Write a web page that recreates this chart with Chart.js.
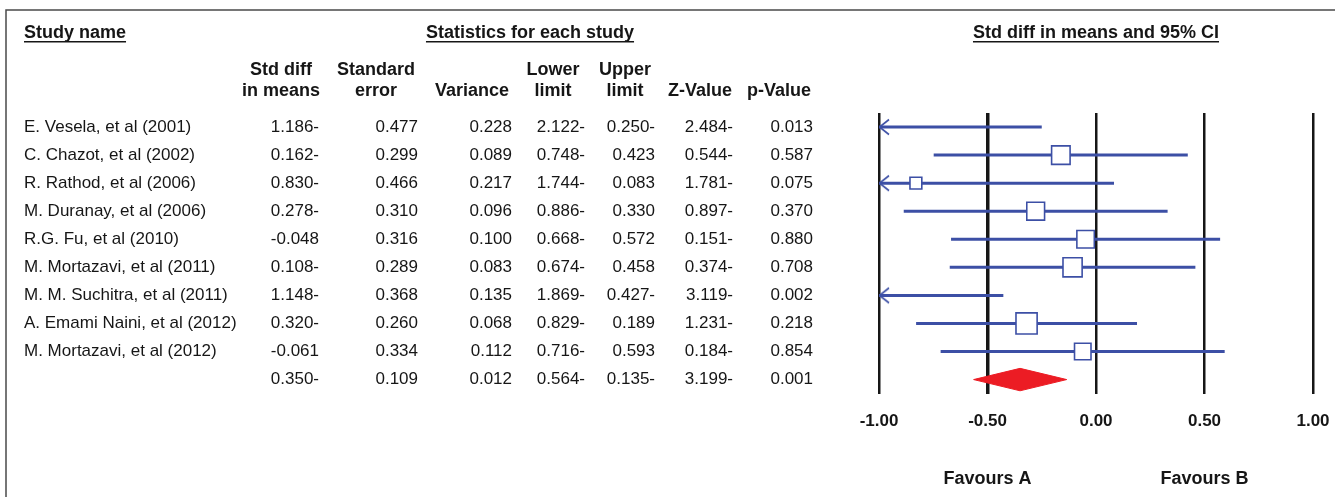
<!DOCTYPE html>
<html>
<head>
<meta charset="utf-8">
<title>Forest plot</title>
<script src="https://cdn.jsdelivr.net/npm/chart.js@4/dist/chart.umd.min.js"></script>
<style>
  html, body { margin: 0; padding: 0; background: #fff; }
  #wrap { width: 1335px; height: 497px; }
</style>
</head>
<body>
<div id="wrap"><canvas id="forest" width="1335" height="497"></canvas></div>
<script>
'use strict';

/* ── Data (as printed in the table) ───────────────────────── */
const studyNames = [
  'E. Vesela, et al (2001)',
  'C. Chazot, et al (2002)',
  'R. Rathod, et al (2006)',
  'M. Duranay, et al (2006)',
  'R.G. Fu, et al (2010)',
  'M. Mortazavi, et al (2011)',
  'M. M. Suchitra, et al (2011)',
  'A. Emami Naini, et al (2012)',
  'M. Mortazavi, et al (2012)',
  ''
];
const stdDiff    = ['1.186-', '0.162-', '0.830-', '0.278-', '-0.048', '0.108-', '1.148-', '0.320-', '-0.061', '0.350-'];
const stdError   = ['0.477', '0.299', '0.466', '0.310', '0.316', '0.289', '0.368', '0.260', '0.334', '0.109'];
const variance   = ['0.228', '0.089', '0.217', '0.096', '0.100', '0.083', '0.135', '0.068', '0.112', '0.012'];
const lowerLimit = ['2.122-', '0.748-', '1.744-', '0.886-', '0.668-', '0.674-', '1.869-', '0.829-', '0.716-', '0.564-'];
const upperLimit = ['0.250-', '0.423', '0.083', '0.330', '0.572', '0.458', '0.427-', '0.189', '0.593', '0.135-'];
const zValue     = ['2.484-', '0.544-', '1.781-', '0.897-', '0.151-', '0.374-', '3.119-', '1.231-', '0.184-', '3.199-'];
const pValue     = ['0.013', '0.587', '0.075', '0.370', '0.880', '0.708', '0.002', '0.218', '0.854', '0.001'];

const columnHeads = [
  ['Std diff', 'in means'], ['Standard', 'error'], ['', 'Variance'],
  ['Lower', 'limit'], ['Upper', 'limit'], ['', 'Z-Value'], ['', 'p-Value']
];
const axisTicks = [-1, -0.5, 0, 0.5, 1];
const favourLabels = ['Favours A', 'Favours B'];
const favourAt = [-0.5, 0.5];
const summaryRow = 9;

/* ── Style ────────────────────────────────────────────────── */
const FONT = "'Liberation Sans', Arial, sans-serif";
const INK = '#161616';
const BLUE = '#3c4fa5';
const RED = '#ec1c24';
const headX = [281, 376, 472, 553, 625, 700, 779];     // header centres
const valueRight = [319, 418, 512, 585, 655, 733, 813]; // value right edges

// "0.250-" is how the table prints -0.250
const num = s => s.endsWith('-') ? -parseFloat(s) : parseFloat(s);
const xMin = axisTicks[0];

/* ── Datasets ─────────────────────────────────────────────── */
const ciSets = [];
const arrowPoints = [];
const boxPoints = [];
for (let i = 0; i < summaryRow; i++) {
  const lo = num(lowerLimit[i]), hi = num(upperLimit[i]), m = num(stdDiff[i]);
  ciSets.push({
    type: 'line',
    data: [{ x: Math.max(lo, xMin), y: i }, { x: hi, y: i }],
    borderColor: BLUE, borderWidth: 3, pointRadius: 0, borderCapStyle: 'butt', order: 2
  });
  if (lo < xMin) arrowPoints.push({ x: xMin, y: i });
  if (m >= xMin) boxPoints.push({ x: m, y: i, w: 1 / num(variance[i]) });
}

// left-pointing open arrowhead used where the CI runs off the axis
const arrowHead = document.createElement('canvas');
arrowHead.width = 24; arrowHead.height = 20;
(() => {
  const c = arrowHead.getContext('2d');
  c.strokeStyle = BLUE; c.lineWidth = 1.6;
  c.beginPath(); c.moveTo(22, 2.5); c.lineTo(12.5, 10); c.lineTo(22, 17.5); c.stroke();
})();

const sm = num(stdDiff[summaryRow]), sl = num(lowerLimit[summaryRow]), su = num(upperLimit[summaryRow]);
const half = 0.4;
const diamondSet = {
  type: 'line',
  data: [
    { x: sl, y: summaryRow }, { x: sm, y: summaryRow - half },
    { x: su, y: summaryRow }, { x: sm, y: summaryRow + half }, { x: sl, y: summaryRow }
  ],
  borderColor: RED, backgroundColor: RED, borderWidth: 1, pointRadius: 0, fill: 'shape', order: 1
};

/* ── Table, titles and frame ──────────────────────────────── */
function underlinedTitle(ctx, text, x, y, align) {
  ctx.font = 'bold 18px ' + FONT;
  ctx.textAlign = align;
  ctx.fillText(text, x, y);
  const w = ctx.measureText(text).width;
  const left = align === 'center' ? x - w / 2 : x;
  ctx.fillRect(left, y + 8, w, 1.5);
}

const tablePlugin = {
  id: 'studyTable',
  afterDraw(chart) {
    const { ctx, scales: { x, y } } = chart;
    ctx.save();
    ctx.fillStyle = INK;
    ctx.textBaseline = 'middle';

    // frame
    ctx.strokeStyle = '#4a4a4a'; ctx.lineWidth = 1.5;
    ctx.beginPath(); ctx.moveTo(6, 497); ctx.lineTo(6, 10); ctx.lineTo(1335, 10); ctx.stroke();

    underlinedTitle(ctx, 'Study name', 24, 33, 'left');
    underlinedTitle(ctx, 'Statistics for each study', 530, 33, 'center');
    underlinedTitle(ctx, 'Std diff in means and 95% CI', x.getPixelForValue(0), 33, 'center');

    ctx.font = 'bold 18px ' + FONT;
    ctx.textAlign = 'center';
    columnHeads.forEach((h, c) => {
      if (h[0]) ctx.fillText(h[0], headX[c], 70);
      ctx.fillText(h[1], headX[c], 91);
    });

    const cols = [stdDiff, stdError, variance, lowerLimit, upperLimit, zValue, pValue];
    ctx.font = '17px ' + FONT;
    studyNames.forEach((name, i) => {
      const py = y.getPixelForValue(i);
      ctx.textAlign = 'left';
      if (name) ctx.fillText(name, 24, py);
      ctx.textAlign = 'right';
      cols.forEach((col, c) => ctx.fillText(col[i], valueRight[c], py));
    });

    ctx.font = 'bold 18px ' + FONT;
    ctx.textAlign = 'center';
    favourLabels.forEach((t, k) => ctx.fillText(t, x.getPixelForValue(favourAt[k]), 479));
    ctx.restore();
  }
};

/* ── Chart ────────────────────────────────────────────────── */
new Chart(document.getElementById('forest'), {
  type: 'scatter',
  data: {
    datasets: [
      ...ciSets,
      {
        data: boxPoints,
        pointStyle: 'rect',
        pointRadius: c => 3.9 * Math.sqrt(c.raw.w),
        pointBackgroundColor: '#fff',
        pointBorderColor: BLUE,
        pointBorderWidth: 1.6,
        order: 0
      },
      { data: arrowPoints, pointStyle: arrowHead, pointRadius: 5, order: 0 },
      diamondSet
    ]
  },
  options: {
    responsive: false,
    animation: false,
    events: [],
    layout: { padding: { left: 879, right: 22, top: 113, bottom: 47 } },
    plugins: { legend: { display: false }, tooltip: { enabled: false } },
    scales: {
      x: {
        type: 'linear',
        min: axisTicks[0],
        max: axisTicks[axisTicks.length - 1],
        afterBuildTicks: s => { s.ticks = axisTicks.map(v => ({ value: v })); },
        afterFit: s => { s.paddingLeft = 0; s.paddingRight = 0; },
        border: { display: false },
        grid: {
          color: INK,
          drawTicks: false,
          lineWidth: c => (c.tick && c.tick.value === -0.5 ? 3.5 : 2.5)
        },
        ticks: {
          padding: 18,
          color: INK,
          font: { family: FONT, size: 17, weight: 'bold' },
          callback: v => v.toFixed(2)
        }
      },
      y: {
        type: 'linear',
        display: false,
        reverse: true,
        min: -0.5,
        max: 9.5
      }
    }
  },
  plugins: [tablePlugin]
});
</script>
</body>
</html>
